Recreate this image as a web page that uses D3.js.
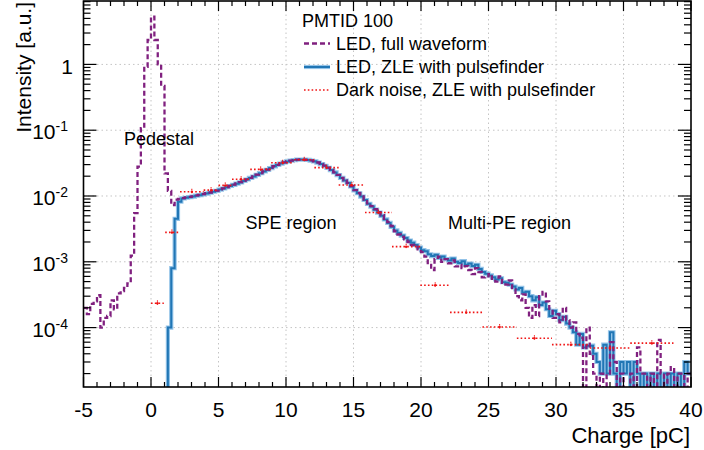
<!DOCTYPE html>
<html><head><meta charset="utf-8">
<script src="https://cdn.jsdelivr.net/npm/d3@7/dist/d3.min.js"></script>
<style>
body{margin:0;background:#fff}
text{font-family:"Liberation Sans",Arial,Helvetica,sans-serif;fill:#000}
</style></head>
<body><svg id="c" width="704" height="450"></svg>
<script>
// ---------------- data ----------------
const xRange = [-5, 40];
const yRange = [1.25e-5, 9.2];
const binStart = -5;
const binWidth = 0.25;
const xTickValues = [-5, 0, 5, 10, 15, 20, 25, 30, 35, 40];
const yTickExponents = [-4, -3, -2, -1, 0];

// LED, full waveform (purple dashed)
const ledFull = [
 2.0e-4,1.6e-4,2.3e-4,2.5e-4,3.1e-4,1.0e-4,1.4e-4,1.5e-4,2.6e-4,1.9e-4,
 3.3e-4,3.6e-4,4.0e-4,4.7e-4,1.24e-3,5.5e-3,0.028,0.107,0.92,2.35,
 5.3,2.35,1.0,0.47,0.022,0.012,0.0073,0.0088,0.0090,0.0093,
 0.0095,0.0097,0.0099,0.0102,0.0104,0.0107,0.0110,0.0113,0.0117,0.0121,
 0.0126,0.0131,0.0137,0.0143,0.0149,0.0155,0.0162,0.0170,0.0179,0.0189,
 0.0199,0.0211,0.0223,0.0237,0.0251,0.0267,0.0283,0.0298,0.0312,0.0325,
 0.0336,0.0345,0.0352,0.0357,0.0359,0.0358,0.0354,0.0347,0.0337,0.0323,
 0.0307,0.0289,0.0269,0.0249,0.0229,0.0209,0.0189,0.0173,0.0158,0.0141,
 0.0123,0.0111,0.0099,0.0088,0.0077,0.0070,0.0063,0.0057,0.0051,0.0045,
 0.0040,0.0035,2.9e-3,2.6e-3,2.4e-3,2.2e-3,2.0e-3,1.8e-3,1.7e-3,1.55e-3,
 1.4e-3,1.2e-3,9e-4,7.5e-4,1.1e-3,1.2e-3,1.0e-3,1.1e-3,9.5e-4,1.05e-3,
 8.5e-4,9.0e-4,8.0e-4,8.6e-4,7.5e-4,6.5e-4,8.0e-4,7.0e-4,5.8e-4,6.0e-4,
 6.5e-4,5.5e-4,5.0e-4,6.0e-4,4.8e-4,4.5e-4,5.2e-4,3.8e-4,3.0e-4,2.6e-4,
 3.2e-4,2.0e-4,1.4e-4,2.2e-4,1.5e-4,3.0e-4,3.5e-4,2.5e-4,1.8e-4,1.4e-4,
 1.6e-4,1.2e-4,2.0e-4,1.3e-4,1.0e-4,1.2e-4,8.0e-5,7.0e-5,0,1.0e-4,
 4.0e-5,2.0e-5,0,2.0e-5,0,2.0e-5,6.0e-5,3.0e-5,0,2.0e-5,
 0,0,2.0e-5,0,5.0e-5,2.0e-5,2.0e-5,0,2.0e-5,0,
 6.5e-5,2.0e-5,0,2.0e-5,2.5e-5,0,2.0e-5,2.0e-5,0,2.0e-5
];

// LED, ZLE with pulsefinder (blue solid)
const ledZle = [
 0,0,0,0,0,0,0,0,0,0,
 0,0,0,0,0,0,0,0,0,0,
 0,0,0,0,0,1.0e-4,8e-4,4.5e-3,8.2e-3,9.2e-3,
 9.4e-3,9.6e-3,9.8e-3,1.01e-2,1.03e-2,1.06e-2,1.09e-2,1.12e-2,1.16e-2,1.20e-2,
 1.25e-2,1.30e-2,1.36e-2,1.42e-2,1.48e-2,1.54e-2,1.61e-2,1.69e-2,1.78e-2,1.88e-2,
 1.98e-2,2.10e-2,2.22e-2,2.36e-2,2.50e-2,2.66e-2,2.82e-2,2.97e-2,3.11e-2,3.24e-2,
 3.35e-2,3.44e-2,3.51e-2,3.56e-2,3.58e-2,3.57e-2,3.53e-2,3.46e-2,3.36e-2,3.22e-2,
 3.06e-2,2.88e-2,2.68e-2,2.48e-2,2.28e-2,2.08e-2,1.88e-2,1.72e-2,1.58e-2,1.40e-2,
 1.22e-2,1.10e-2,9.8e-3,8.7e-3,7.6e-3,6.9e-3,6.2e-3,5.6e-3,5.0e-3,4.4e-3,
 3.9e-3,3.4e-3,3.0e-3,2.75e-3,2.5e-3,2.3e-3,2.1e-3,1.95e-3,1.8e-3,1.65e-3,
 1.5e-3,1.45e-3,1.3e-3,1.22e-3,1.28e-3,1.15e-3,1.2e-3,1.1e-3,1.05e-3,1.12e-3,
 1.0e-3,9.6e-4,1.02e-3,9.0e-4,9.4e-4,8.6e-4,9.0e-4,7.8e-4,7.0e-4,6.6e-4,
 6.2e-4,5.8e-4,5.4e-4,5.6e-4,4.9e-4,4.8e-4,4.5e-4,4.2e-4,3.8e-4,4.0e-4,
 3.4e-4,3.5e-4,3.0e-4,2.6e-4,2.9e-4,2.2e-4,2.4e-4,1.9e-4,1.5e-4,1.8e-4,
 1.6e-4,1.3e-4,1.45e-4,1.15e-4,1.0e-4,8.5e-5,5.5e-5,8.0e-5,5.0e-5,5.3e-5,
 5.3e-5,4.0e-5,3.0e-5,2.0e-5,5.5e-5,2.0e-5,8.5e-5,2.0e-5,0,3.0e-5,
 2.0e-5,3.0e-5,0,3.0e-5,2.0e-5,0,2.0e-5,0,2.0e-5,0,
 2.0e-5,0,2.0e-5,0,2.0e-5,0,2.0e-5,0,3.0e-5,2.0e-5
];

// Dark noise, ZLE with pulsefinder (red, variable bins)
const darkLo  = [0.0, 1.05, 2.15, 3.9, 5.0, 6.0, 7.35, 8.9, 10.6, 12.1, 13.9, 15.85, 17.85, 19.95, 22.15, 24.55, 27.1, 29.7, 32.5, 35.5];
const darkHi  = [0.95, 2.05, 3.9, 5.0, 6.0, 7.35, 8.9, 10.6, 12.1, 13.9, 15.85, 17.85, 19.95, 22.15, 24.55, 27.1, 29.7, 32.5, 35.5, 38.7];
const darkVal = [2.34e-4, 2.8e-3, 0.0116, 0.0123, 0.0145, 0.018, 0.0254, 0.032, 0.0355, 0.027, 0.0147, 5.6e-3, 1.7e-3, 4.4e-4, 1.7e-4, 1.02e-4, 6.9e-5, 5.5e-5, 4.9e-5, 5.8e-5];

const legendTitle = "PMTID 100";
const legendLabels = ["LED, full waveform", "LED, ZLE with pulsefinder", "Dark noise, ZLE with pulsefinder"];
const annotations = [
  {text: "Pedestal", x: -2.0, y: 0.06},
  {text: "SPE region", x: 7.0, y: 0.0031},
  {text: "Multi-PE region", x: 22.0, y: 0.0031}
];

// ---------------- drawing ----------------
const svg = d3.select("#c");
const L = 83.5, R = 691, T = 1, B = 387;
const x = d3.scaleLinear().domain(xRange).range([L, R]);
const y = d3.scaleLog().domain(yRange).range([B, T]).clamp(true);
const yv = v => v > 0 ? y(v) : B + 2;

const purple = "#80207f", blue = "#2176b5", blueHalo = "#93c3e8", red = "#f01414";

svg.append("rect").attr("width", 704).attr("height", 450).attr("fill", "#fff");
svg.append("defs").append("clipPath").attr("id", "clip")
  .append("rect").attr("x", L).attr("y", T).attr("width", R - L).attr("height", B - T);

// grid
const grid = svg.append("g").attr("stroke", "#c4c4c4").attr("stroke-width", 1).attr("stroke-dasharray", "1.5,3");
xTickValues.slice(1, -1).forEach(v => {
  grid.append("line").attr("x1", x(v)).attr("x2", x(v)).attr("y1", T).attr("y2", B);
});
yTickExponents.forEach(e => {
  grid.append("line").attr("x1", L).attr("x2", R).attr("y1", y(Math.pow(10, e))).attr("y2", y(Math.pow(10, e)));
});

// histogram step paths
function stepPoints(vals) {
  const pts = vals.map((v, i) => [binStart + i * binWidth, v]);
  pts.push([binStart + vals.length * binWidth, vals[vals.length - 1]]);
  return pts;
}
const stepLine = d3.line().x(d => x(d[0])).y(d => yv(d[1])).curve(d3.curveStepAfter);

const plot = svg.append("g").attr("clip-path", "url(#clip)");

plot.append("path").attr("d", stepLine(stepPoints(ledZle)))
  .attr("fill", "none").attr("stroke", blueHalo).attr("stroke-width", 4.2).attr("stroke-linejoin", "miter");
plot.append("path").attr("d", stepLine(stepPoints(ledZle)))
  .attr("fill", "none").attr("stroke", blue).attr("stroke-width", 2).attr("stroke-linejoin", "miter");

plot.append("path").attr("d", stepLine(stepPoints(ledFull)))
  .attr("fill", "none").attr("stroke", purple).attr("stroke-width", 2.3).attr("stroke-dasharray", "5,3");

// dark noise
const dark = darkVal.map((v, i) => ({lo: darkLo[i], hi: darkHi[i], v}));
const dg = plot.append("g");
dg.selectAll("line.h").data(dark).join("line").attr("class", "h")
  .attr("x1", d => x(d.lo)).attr("x2", d => x(d.hi))
  .attr("y1", d => y(d.v)).attr("y2", d => y(d.v))
  .attr("stroke", red).attr("stroke-width", 1.6).attr("stroke-dasharray", "1.6,2.2");
dg.selectAll("line.v").data(dark).join("line").attr("class", "v")
  .attr("x1", d => x((d.lo + d.hi) / 2)).attr("x2", d => x((d.lo + d.hi) / 2))
  .attr("y1", d => y(d.v) - 3).attr("y2", d => y(d.v) + 3)
  .attr("stroke", red).attr("stroke-width", 1).attr("stroke-dasharray", "1.5,1.5");
dg.selectAll("circle").data(dark).join("circle")
  .attr("cx", d => x((d.lo + d.hi) / 2)).attr("cy", d => y(d.v)).attr("r", 1.2).attr("fill", red);

// frame
svg.append("rect").attr("x", L).attr("y", T).attr("width", R - L).attr("height", B - T)
  .attr("fill", "none").attr("stroke", "#000").attr("stroke-width", 1.6);

// ticks
const tk = svg.append("g").attr("stroke", "#000").attr("stroke-width", 1.2);
d3.range(xRange[0], xRange[1] + 0.001, 1).forEach(v => {
  const major = (v % 5 === 0);
  const len = major ? 10 : 5;
  tk.append("line").attr("x1", x(v)).attr("x2", x(v)).attr("y1", B).attr("y2", B - len);
  tk.append("line").attr("x1", x(v)).attr("x2", x(v)).attr("y1", T).attr("y2", T + len);
});
for (let e = -5; e <= 1; e++) {
  for (let m = 1; m <= 9; m++) {
    const v = m * Math.pow(10, e);
    if (v < yRange[0] || v > yRange[1]) continue;
    const len = m === 1 ? 13 : 7;
    tk.append("line").attr("x1", L).attr("x2", L + len).attr("y1", y(v)).attr("y2", y(v));
    tk.append("line").attr("x1", R).attr("x2", R - len).attr("y1", y(v)).attr("y2", y(v));
  }
}

// tick labels
svg.append("g").selectAll("text").data(xTickValues).join("text")
  .attr("x", d => x(d)).attr("y", 417).attr("text-anchor", "middle")
  .attr("font-size", 21).text(d => d);

const yl = svg.append("g");
yTickExponents.forEach(e => {
  const py = y(Math.pow(10, e));
  if (e === 0) {
    yl.append("text").attr("x", 73).attr("y", py + 9.5).attr("text-anchor", "end")
      .attr("font-size", 21).text("1");
  } else {
    const t = yl.append("text").attr("x", 68).attr("y", py + 9).attr("text-anchor", "end").attr("font-size", 21);
    t.append("tspan").text("10");
    t.append("tspan").attr("font-size", 14).attr("dy", -8).text(String(e));
  }
});

// axis titles
svg.append("text").attr("transform", "translate(31,2) rotate(-90)")
  .attr("text-anchor", "end").attr("font-size", 21).text("Intensity [a.u.]");
svg.append("text").attr("x", 690).attr("y", 442.5).attr("text-anchor", "end")
  .attr("font-size", 22).text("Charge [pC]");

// legend
const lg = svg.append("g");
lg.append("text").attr("x", 302).attr("y", 26.5).attr("font-size", 18).text(legendTitle);
const rows = [49.5, 72.5, 95.5];
legendLabels.forEach((lab, i) => {
  lg.append("text").attr("x", 336).attr("y", rows[i]).attr("font-size", 18).text(lab);
});
lg.append("line").attr("x1", 304).attr("x2", 330).attr("y1", 43.5).attr("y2", 43.5)
  .attr("stroke", purple).attr("stroke-width", 2.3).attr("stroke-dasharray", "5,3");
lg.append("line").attr("x1", 304).attr("x2", 330).attr("y1", 67).attr("y2", 67)
  .attr("stroke", blueHalo).attr("stroke-width", 4.2);
lg.append("line").attr("x1", 304).attr("x2", 330).attr("y1", 67).attr("y2", 67)
  .attr("stroke", blue).attr("stroke-width", 2);
lg.append("line").attr("x1", 304).attr("x2", 330).attr("y1", 90).attr("y2", 90)
  .attr("stroke", red).attr("stroke-width", 1.6).attr("stroke-dasharray", "1.6,2.2");

// annotations
svg.append("g").selectAll("text").data(annotations).join("text")
  .attr("x", d => x(d.x)).attr("y", d => y(d.y)).attr("font-size", 18).text(d => d.text);
</script></body></html>
